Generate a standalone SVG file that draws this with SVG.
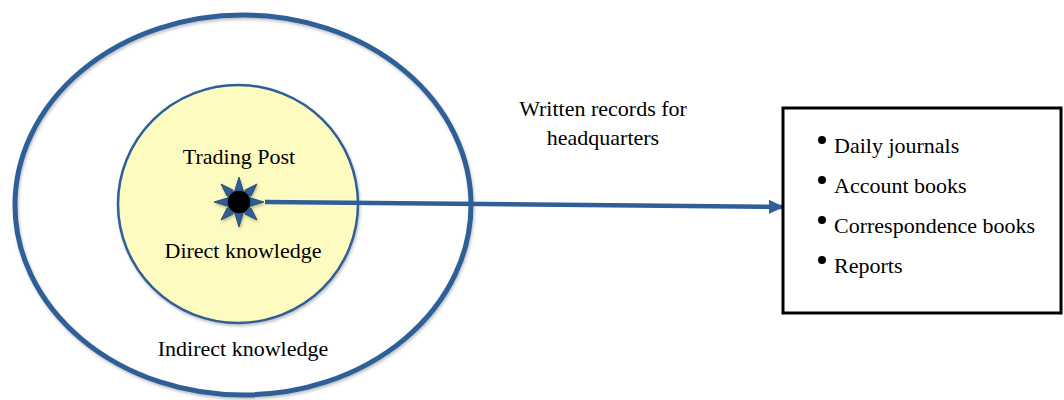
<svg xmlns="http://www.w3.org/2000/svg" width="1064" height="400" viewBox="0 0 1064 400">
<style>
text{font-family:"Liberation Serif","DejaVu Serif",serif;font-size:22px;fill:#000}
.mid{text-anchor:middle}
</style>
<defs>
<marker id="arr" markerWidth="16" markerHeight="16" refX="13" refY="8" orient="auto" markerUnits="userSpaceOnUse" viewBox="0 0 16 16">
<path d="M0,1 L15,8 L0,15 Z" fill="#2f5f96"/>
</marker>
<filter id="sh" x="-20%" y="-20%" width="140%" height="140%">
<feDropShadow dx="1" dy="2" stdDeviation="1.5" flood-color="#000" flood-opacity="0.25"/>
</filter>
</defs>
<rect width="1064" height="400" fill="#fff"/>
<g id="outer">
<ellipse cx="243" cy="205" rx="228" ry="190" fill="none" stroke="#2f5f96" stroke-width="5" filter="url(#sh)"/>
<text class="mid" x="243" y="356">Indirect knowledge</text>
</g>
<g id="inner">
<ellipse cx="238" cy="204" rx="120" ry="119" fill="#fdfbbf" stroke="#2f5f96" stroke-width="2.5" filter="url(#sh)"/>
<text class="mid" x="239" y="164">Trading Post</text>
<text class="mid" x="243" y="258">Direct knowledge</text>
</g>
<g id="connectors">
<line x1="265" y1="202" x2="782" y2="207" stroke="#2f5f96" stroke-width="4.5" marker-end="url(#arr)"/>
</g>
<g id="sun" filter="url(#sh)">
<g fill="#2f5f96" stroke="#1b3f6a" stroke-width="0.8">
<polygon points="239,177 235,190 243,190"/>
<polygon points="239,227 235,214 243,214"/>
<polygon points="214,202 227,198 227,206"/>
<polygon points="264,202 251,198 251,206"/>
<polygon points="221,184 227,196 233,190"/>
<polygon points="257,184 251,196 245,190"/>
<polygon points="221,220 227,208 233,214"/>
<polygon points="257,220 251,208 245,214"/>
</g>
<circle cx="239" cy="202" r="12" fill="#000" stroke="#2f5f96" stroke-width="1.5"/>
</g>
<g id="label">
<text class="mid" x="603" y="116">Written records for</text>
<text class="mid" x="603" y="145">headquarters</text>
</g>
<g id="records">
<rect x="783" y="108" width="278" height="205" fill="#fff" stroke="#000" stroke-width="3"/>
<g fill="#000">
<circle cx="822" cy="140" r="4"/>
<circle cx="822" cy="180" r="4"/>
<circle cx="822" cy="220" r="4"/>
<circle cx="822" cy="260" r="4"/>
</g>
<text x="834" y="153">Daily journals</text>
<text x="834" y="193">Account books</text>
<text x="834" y="233">Correspondence books</text>
<text x="834" y="273">Reports</text>
</g>
</svg>
